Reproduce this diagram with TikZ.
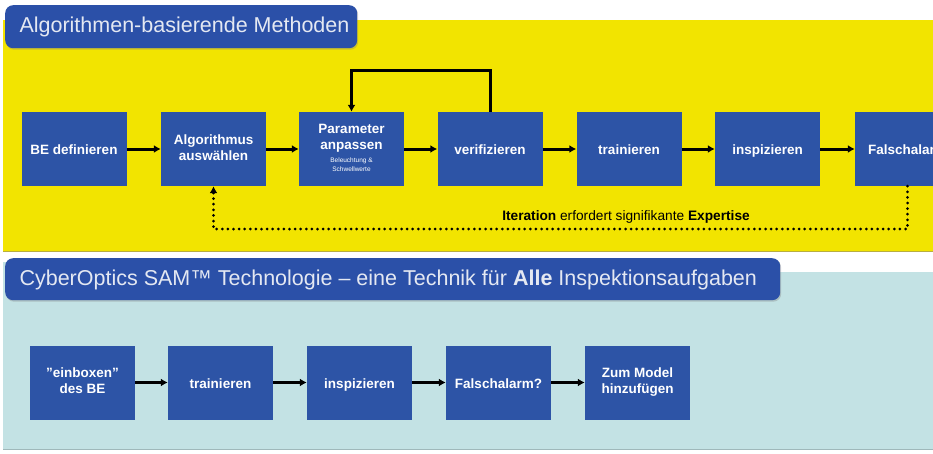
\documentclass[tikz,border=0pt]{standalone}
\usepackage{fontspec}
\setmainfont{Liberation Sans}
\usetikzlibrary{arrows.meta,shadows}
\definecolor{ylw}{HTML}{F2E400}
\definecolor{ylwedge}{HTML}{B8AE40}
\definecolor{bbox}{HTML}{2D54A6}
\definecolor{tbox}{HTML}{2B50A8}
\definecolor{lblue}{HTML}{C3E2E4}
\definecolor{lbedge}{HTML}{9FB8BA}
\definecolor{ttext}{HTML}{E4E8F2}
\newcommand{\boxstrut}{\rule[-3pt]{0pt}{17pt}}
\begin{document}
\begin{tikzpicture}[x=1pt,y=-1pt,
  stepbox/.style={fill=bbox, minimum width=105pt, minimum height=74pt, inner sep=1pt,
    align=center, text=white, font=\fontsize{13.5}{16}\selectfont\bfseries,
    execute at begin node=\boxstrut, execute at end node=\boxstrut},
  titlebox/.style={fill=tbox, rounded corners=8pt, anchor=north west,
    drop shadow={shadow xshift=1pt, shadow yshift=-1.5pt, opacity=0.35}},
  titletext/.style={anchor=west, text=ttext, font=\fontsize{21.5}{24}\selectfont},
  flow/.style={line width=3pt, -{Latex[length=7pt,width=8pt]}},
  dots/.style={line width=3pt, line cap=round, dash pattern=on 0pt off 5.6pt, -{Latex[length=7pt,width=8pt]}}]
\useasboundingbox (0,0) rectangle (933,453);
\clip (0,0) rectangle (933,453);
\fill[white] (0,0) rectangle (933,453);
% panels
\fill[ylw] (3,20) rectangle (933,252);
\draw[ylwedge, line width=1.2pt] (3,251.5) -- (933,251.5);
\fill[lblue] (3,272) rectangle (933,450);
\draw[lbedge, line width=1pt] (3,449.5) -- (933,449.5);
\fill[lblue] (3,262) rectangle (780,280);
% titles
\node[titlebox, minimum width=352pt, minimum height=43pt] (t1) at (5,5) {};
\node[titletext] (t1txt) at (16,27) {Algorithmen-basierende Methoden};
\node[titlebox, minimum width=775pt, minimum height=42pt] (t2) at (5,258) {};
\node[titletext] (t2txt) at (16,280) {CyberOptics SAM\texttrademark\ Technologie – eine Technik für \textbf{Alle} Inspektionsaufgaben};
% top row
\node[stepbox] (be)  at (74,149)    {BE definieren};
\node[stepbox] (alg) at (213.5,149) {Algorithmus\\auswählen};
\node[stepbox] (par) at (351.5,149) {Parameter\\anpassen\\[-3pt]{\fontsize{6.5}{7}\selectfont\mdseries Beleuchtung \&}\\[-7pt]{\fontsize{6.5}{7}\selectfont\mdseries Schwellwerte}};
\node[stepbox] (ver) at (490,149)   {verifizieren};
\node[stepbox] (tr)  at (629,149)   {trainieren};
\node[stepbox] (ins) at (767.5,149) {inspizieren};
\node[stepbox] (fa)  at (907.5,149) {Falschalarm};
\draw[flow] (be) -- (alg);
\draw[flow] (alg) -- (par);
\draw[flow] (par) -- (ver);
\draw[flow] (ver) -- (tr);
\draw[flow] (tr) -- (ins);
\draw[flow] (ins) -- (fa);
\coordinate (looplevel) at (0,70);
\draw[flow] (ver.north) -- (ver.north |- looplevel) -| (par.north);
\coordinate (dotlevel) at (0,229);
\draw[dots] (fa.south) -- (fa.south |- dotlevel) -| (alg.south);
\node[font=\fontsize{13.7}{15}\selectfont, text=black] (iter) at (626,217)
  {\textbf{Iteration} erfordert signifikante \textbf{Expertise}};
% bottom row
\node[stepbox] (eb)  at (82.5,382.5)  {"einboxen"\\des BE};
\node[stepbox] (tr2) at (220.5,382.5) {trainieren};
\node[stepbox] (in2) at (359.5,382.5) {inspizieren};
\node[stepbox] (fa2) at (498.5,382.5) {Falschalarm?};
\node[stepbox] (zm)  at (637.5,382.5) {Zum Model\\hinzufügen};
\draw[flow] (eb) -- (tr2);
\draw[flow] (tr2) -- (in2);
\draw[flow] (in2) -- (fa2);
\draw[flow] (fa2) -- (zm);
\end{tikzpicture}
\end{document}
